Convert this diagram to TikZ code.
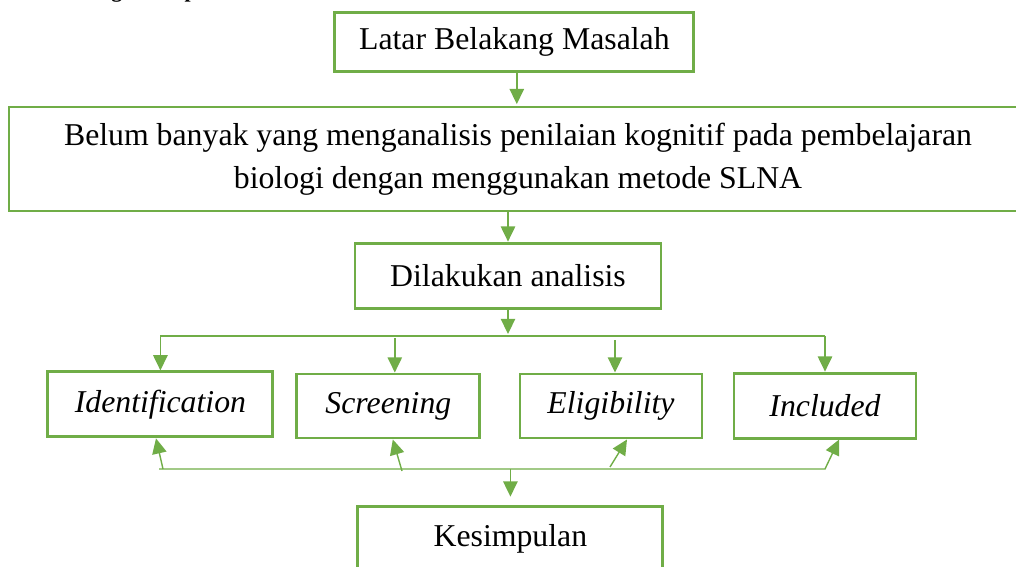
\documentclass[tikz,border=0pt]{standalone}
\usepackage{fontspec}
\setmainfont{Liberation Serif}
\usepackage{tikz}
\usetikzlibrary{positioning, arrows.meta}
\definecolor{BoxGreen}{HTML}{70AD47}
\tikzstyle{Box} = [rectangle, draw=BoxGreen, line width=2.1pt, fill=white, align=center, inner sep=0pt, font=\fontsize{22.6}{30.5}\selectfont]
\tikzstyle{Step} = [Box, minimum width=4.55cm, minimum height=1.6cm]
\tikzstyle{flow} = [BoxGreen, line width=1pt, -{Triangle[width=0.36cm, length=0.38cm]}]
\tikzstyle{link} = [BoxGreen, line width=1pt]

\begin{document}
\begin{tikzpicture}
    \useasboundingbox (0,0) rectangle (25.4,-14.175);

    %%%%%%%%%%%%%%%%%%%%%%
    \node[anchor=base west, font=\fontsize{15.5}{18}\selectfont\bfseries] (title) at (1.175,0.07) {Kerangka Berpikir};

    \node[Box, minimum width=8.975cm, minimum height=1.475cm] (latar) at (12.86,-1.04) {Latar Belakang Masalah};
    \node[Box, minimum width=25.45cm, minimum height=2.6cm] (problem) at (12.95,-3.975) {Belum banyak yang menganalisis penilaian kognitif pada pembelajaran\\biologi dengan menggunakan metode SLNA};
    \node[Box, minimum width=7.65cm, minimum height=1.625cm] (analisis) at (12.7,-6.89) {Dilakukan analisis};

    %%%%%%%%%%%%%%%%%%%%%%
    \node[Step, minimum width=5.625cm, minimum height=1.625cm] (ident) at (4.01,-10.11) {\itshape Identification};
    \node[Step, minimum width=4.575cm] (screen) at (9.71,-10.15) {\itshape Screening};
    \node[Step] (elig) at (15.275,-10.15) {\itshape Eligibility};
    \node[Step, minimum height=1.625cm] (incl) at (20.625,-10.14) {\itshape Included};

    \node[Box, minimum width=7.625cm, minimum height=1.575cm] (kesimpulan) at (12.76,-13.46) {Kesimpulan};

    \coordinate (busT) at (0,-8.4);
    \coordinate (busB) at (0,-11.725);
    \coordinate (b1) at (4.075,-11.725);
    \coordinate (b2) at (10.05,-11.775);
    \coordinate (b3) at (15.25,-11.675);
    \coordinate (bL) at (3.975,-11.725);
    \coordinate (b4) at (20.625,-11.725);

    %%%%%%%%%%%%%%%%%%%%%%
    \draw[flow, shorten >=1pt] ([xshift=0.06cm]latar.south) -- ([xshift=0.06cm]latar.south |- problem.north);
    \draw[flow] (problem.south -| analisis.north) -- (analisis.north);
    \draw[flow, shorten >=0.05cm] (analisis.south) -- (analisis.south |- busT);

    \draw[link] (ident.north |- busT) -- (incl.north |- busT);
    \draw[flow] (ident.north |- busT) -- (ident.north);
    \draw[flow, shorten <=0.05cm] ([xshift=0.16cm]screen.north |- busT) -- ([xshift=0.16cm]screen.north);
    \draw[flow, shorten <=0.1cm] ([xshift=0.1cm]elig.north |- busT) -- ([xshift=0.1cm]elig.north);
    \draw[flow] (incl.north |- busT) -- (incl.north);

    \draw[flow] (bL) -- (b4) -- ([xshift=0.35cm]incl.south);
    \draw[flow] (b1) -- ([xshift=-0.11cm]ident.south);
    \draw[flow] (b2) -- ([xshift=0.11cm]screen.south);
    \draw[flow] (b3) -- ([xshift=0.4cm]elig.south);
    \draw[flow, shorten >=0.22cm] (kesimpulan.north |- busB) -- (kesimpulan.north);

\end{tikzpicture}
\end{document}
